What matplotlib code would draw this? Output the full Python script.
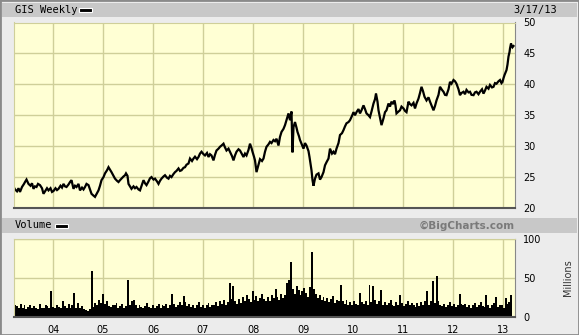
import numpy as np
import matplotlib
matplotlib.use("Agg")
from matplotlib import pyplot as plt
from matplotlib.patches import Rectangle

# weekly price (decimal year, close)
price_dates = [2003.22, 2003.24, 2003.28, 2003.31, 2003.34, 2003.38, 2003.42, 2003.44, 2003.47, 2003.51,
               2003.55, 2003.58, 2003.61, 2003.64, 2003.67, 2003.70, 2003.74, 2003.78, 2003.81, 2003.85,
               2003.88, 2003.91, 2003.95, 2003.98, 2004.01, 2004.05, 2004.08, 2004.11, 2004.15, 2004.18,
               2004.21, 2004.24, 2004.27, 2004.31, 2004.34, 2004.37, 2004.41, 2004.44, 2004.47, 2004.51,
               2004.54, 2004.58, 2004.61, 2004.64, 2004.67, 2004.71, 2004.74, 2004.77, 2004.81, 2004.84,
               2004.88, 2004.91, 2004.94, 2004.97, 2005.01, 2005.04, 2005.08, 2005.11, 2005.14, 2005.17,
               2005.21, 2005.24, 2005.28, 2005.31, 2005.34, 2005.37, 2005.41, 2005.44, 2005.46, 2005.49,
               2005.51, 2005.54, 2005.57, 2005.61, 2005.64, 2005.67, 2005.71, 2005.74, 2005.78, 2005.81,
               2005.84, 2005.87, 2005.91, 2005.94, 2005.97, 2006.01, 2006.04, 2006.08, 2006.11, 2006.14,
               2006.17, 2006.21, 2006.24, 2006.28, 2006.31, 2006.34, 2006.37, 2006.41, 2006.44, 2006.47,
               2006.51, 2006.54, 2006.57, 2006.61, 2006.64, 2006.67, 2006.71, 2006.74, 2006.78, 2006.81,
               2006.84, 2006.88, 2006.91, 2006.94, 2006.97, 2007.01, 2007.04, 2007.08, 2007.11, 2007.14,
               2007.17, 2007.21, 2007.24, 2007.27, 2007.31, 2007.34, 2007.37, 2007.41, 2007.44, 2007.47,
               2007.51, 2007.54, 2007.58, 2007.61, 2007.64, 2007.67, 2007.71, 2007.74, 2007.78, 2007.81,
               2007.84, 2007.87, 2007.91, 2007.94, 2007.97, 2007.99, 2008.02, 2008.04, 2008.07, 2008.11,
               2008.14, 2008.18, 2008.21, 2008.24, 2008.27, 2008.31, 2008.34, 2008.37, 2008.41, 2008.44,
               2008.47, 2008.51, 2008.54, 2008.57, 2008.61, 2008.64, 2008.67, 2008.71, 2008.74, 2008.77,
               2008.79, 2008.81, 2008.84, 2008.87, 2008.89, 2008.92, 2008.94, 2008.98, 2009.01, 2009.04,
               2009.07, 2009.11, 2009.13, 2009.17, 2009.19, 2009.21, 2009.24, 2009.27, 2009.31, 2009.34,
               2009.37, 2009.41, 2009.44, 2009.47, 2009.51, 2009.54, 2009.58, 2009.61, 2009.64, 2009.67,
               2009.71, 2009.74, 2009.78, 2009.81, 2009.84, 2009.87, 2009.91, 2009.94, 2009.98, 2010.01,
               2010.04, 2010.07, 2010.11, 2010.14, 2010.17, 2010.21, 2010.24, 2010.27, 2010.31, 2010.34,
               2010.37, 2010.41, 2010.44, 2010.46, 2010.49, 2010.51, 2010.54, 2010.57, 2010.61, 2010.64,
               2010.67, 2010.71, 2010.74, 2010.77, 2010.80, 2010.83, 2010.85, 2010.87, 2010.91, 2010.94,
               2010.97, 2011.01, 2011.04, 2011.07, 2011.11, 2011.14, 2011.17, 2011.21, 2011.24, 2011.27,
               2011.31, 2011.34, 2011.37, 2011.40, 2011.43, 2011.47, 2011.51, 2011.54, 2011.57, 2011.61,
               2011.64, 2011.67, 2011.71, 2011.74, 2011.78, 2011.81, 2011.84, 2011.87, 2011.91, 2011.94,
               2011.97, 2012.01, 2012.04, 2012.07, 2012.11, 2012.14, 2012.17, 2012.21, 2012.24, 2012.27,
               2012.31, 2012.34, 2012.37, 2012.41, 2012.44, 2012.47, 2012.51, 2012.54, 2012.58, 2012.61,
               2012.64, 2012.67, 2012.71, 2012.74, 2012.78, 2012.81, 2012.84, 2012.87, 2012.91, 2012.94,
               2012.97, 2012.99, 2013.01, 2013.03, 2013.05, 2013.07, 2013.09, 2013.11, 2013.13, 2013.14,
               2013.16, 2013.17, 2013.19, 2013.21]
price = [23.3, 23.0, 22.7, 23.2, 22.6, 23.4, 23.9, 24.2, 24.6, 23.9,
         23.6, 24.0, 23.1, 23.5, 23.4, 23.9, 23.7, 23.2, 22.3, 22.8,
         23.2, 22.85, 23.2, 22.6, 22.75, 23.2, 22.9, 23.1, 23.6, 23.3,
         23.9, 23.5, 23.4, 23.8, 24.2, 24.5, 23.1, 23.6, 23.4, 23.9,
         22.85, 23.3, 23.0, 23.4, 23.9, 23.7, 23.0, 22.3, 22.0, 21.8,
         22.4, 22.85, 23.6, 24.5, 25.0, 25.6, 26.1, 26.6, 26.2, 25.8,
         25.2, 24.75, 24.4, 24.2, 24.5, 24.75, 25.1, 25.3, 25.6, 25.2,
         23.9, 23.5, 23.1, 23.5, 23.2, 23.4, 23.0, 22.85, 23.8, 24.5,
         24.0, 23.7, 24.3, 24.8, 25.0, 24.6, 24.75, 24.3, 23.9, 24.4,
         24.75, 25.1, 25.3, 24.9, 24.75, 25.2, 25.0, 25.5, 25.8, 26.0,
         26.4, 26.0, 26.1, 26.5, 26.6, 27.0, 27.2, 28.0, 27.6, 28.0,
         28.3, 27.9, 28.25, 28.8, 29.1, 28.7, 28.5, 28.9, 28.25, 28.7,
         28.5, 27.7, 28.6, 29.3, 29.6, 29.9, 30.1, 30.4, 29.8, 29.3,
         29.6, 29.1, 28.4, 27.7, 28.5, 29.1, 29.5, 29.3, 28.7, 28.25,
         28.8, 28.5, 29.4, 30.4, 29.7, 29.1, 28.3, 27.7, 25.8, 27.0,
         27.9, 27.6, 28.0, 29.1, 29.9, 30.3, 30.7, 30.5, 31.0, 30.8,
         31.2, 30.1, 31.5, 32.3, 32.8, 33.4, 34.2, 35.3, 34.2, 35.6,
         29.0, 33.1, 33.9, 33.0, 32.3, 31.6, 31.0, 30.2, 29.6, 30.5,
         30.1, 29.2, 28.25, 26.1, 24.5, 23.6, 24.75, 25.4, 25.6, 24.6,
         25.0, 25.8, 26.9, 27.4, 28.0, 29.6, 28.8, 29.1, 28.7, 29.6,
         30.5, 31.8, 32.1, 32.6, 33.2, 33.7, 33.9, 34.2, 34.9, 35.5,
         35.0, 35.5, 36.0, 35.3, 35.8, 36.6, 36.0, 35.3, 35.0, 34.7,
         35.6, 36.9, 37.6, 38.5, 37.2, 35.8, 34.6, 33.4, 34.5, 35.5,
         35.8, 36.9, 36.4, 37.2, 36.8, 37.4, 36.6, 35.3, 35.6, 35.8,
         36.4, 36.1, 35.7, 35.5, 37.2, 36.8, 36.6, 37.0, 36.1, 36.9,
         37.7, 38.6, 39.6, 38.9, 38.0, 37.4, 37.9, 37.2, 36.6, 35.8,
         36.5, 37.4, 38.3, 39.6, 39.1, 38.8, 38.3, 38.25, 39.2, 40.4,
         40.1, 40.7, 40.5, 40.1, 39.2, 38.25, 38.6, 38.8, 38.4, 39.1,
         38.7, 38.8, 38.3, 38.25, 38.7, 38.8, 38.4, 38.8, 39.2, 38.5,
         39.0, 39.6, 39.3, 39.9, 39.5, 39.6, 40.2, 40.1, 40.5, 40.7,
         40.2, 40.4, 41.0, 41.5, 41.9, 42.3, 43.2, 44.5, 45.2, 45.8,
         46.6, 46.35, 46.0, 46.2]

# volume in millions, two-week steps from March 2003
vol_start = 2003.22
vol_step = 14 / 365.25
volume = [16, 14, 12, 17, 11, 15, 10, 13, 16, 11, 14, 12, 10, 17, 12, 11, 15, 14, 12, 33, 13, 11, 16, 13, 12, 20,
          14, 12, 17, 11, 15, 31, 12, 18, 11, 14, 10, 9, 8, 10, 59, 13, 18, 15, 22, 18, 30, 17, 21, 14, 13, 16,
          15, 18, 12, 14, 17, 11, 14, 47, 15, 20, 22, 15, 12, 16, 13, 11, 14, 18, 13, 12, 16, 11, 14, 17, 12, 15,
          14, 17, 12, 15, 30, 17, 13, 15, 19, 15, 27, 19, 14, 17, 13, 16, 12, 15, 19, 13, 16, 12, 15, 18, 13, 16,
          16, 19, 14, 20, 17, 22, 15, 19, 44, 23, 40, 20, 17, 23, 18, 26, 21, 28, 23, 19, 33, 22, 27, 20, 24, 29,
          23, 20, 26, 21, 28, 24, 36, 26, 22, 30, 25, 28, 43, 48, 71, 36, 30, 40, 34, 28, 33, 37, 31, 26, 38, 83,
          36, 29, 25, 28, 22, 26, 20, 24, 19, 23, 27, 18, 22, 20, 41, 20, 17, 22, 16, 19, 15, 20, 17, 16, 31, 19,
          17, 20, 16, 41, 19, 40, 22, 17, 20, 35, 16, 19, 15, 18, 22, 16, 14, 19, 15, 28, 18, 14, 17, 21, 15, 18,
          16, 13, 18, 14, 19, 15, 20, 33, 16, 21, 46, 18, 52, 20, 15, 14, 17, 13, 16, 19, 14, 17, 13, 16, 30, 17,
          15, 17, 13, 16, 12, 15, 18, 13, 16, 19, 14, 13, 28, 16, 12, 15, 18, 26, 13, 16, 15, 12, 25, 17, 19, 28]

years = [2004, 2005, 2006, 2007, 2008, 2009, 2010, 2011, 2012, 2013]
year_labels = ['04', '05', '06', '07', '08', '09', '10', '11', '12', '13']
price_ticks = [20, 25, 30, 35, 40, 45, 50]
vol_ticks = [0, 50, 100]

W, H = 579, 335
bg = '#ececec'
plot_bg = '#ffffd4'
grid_c = '#cfcf99'
bar_c = '#c8c8c8'

fig = plt.figure(figsize=(W / 100, H / 100), dpi=100, facecolor=bg)

def fx(px):
    return px / W

def fy(py):
    return 1 - py / H

# title bars
fig.patches.append(Rectangle((fx(2), fy(17)), fx(575), 14 / H, transform=fig.transFigure,
                             facecolor=bar_c, edgecolor='none'))
fig.patches.append(Rectangle((fx(2), fy(233)), fx(575), 15 / H, transform=fig.transFigure,
                             facecolor=bar_c, edgecolor='none'))
# outer frame
fig.patches.append(Rectangle((0, 0), 1, 1, transform=fig.transFigure, facecolor='none',
                             edgecolor='#8a8a8a', linewidth=2))

x0, x1 = vol_start, 2013.24

ax = fig.add_axes([fx(14), fy(208), fx(515 - 14), (208 - 22.5) / H])
ax.set_facecolor(plot_bg)
ax.plot(price_dates, price, color='black', linewidth=1.6, solid_joinstyle='miter')
ax.set_xlim(x0, x1)
ax.set_ylim(20, 50)
ax.set_xticks(years)
ax.set_xticklabels([])
ax.set_yticks(price_ticks)
ax.yaxis.tick_right()
ax.tick_params(length=0, labelsize=7, pad=6)
ax.grid(True, color=grid_c, linewidth=1)
ax.set_axisbelow(True)

axv = fig.add_axes([fx(14), fy(317), fx(515 - 14), (317 - 239) / H])
axv.set_facecolor(plot_bg)
edges = vol_start + vol_step * np.arange(len(volume) + 1)
axv.stairs(volume, edges, fill=True, color='black', baseline=0)
axv.set_xlim(x0, x1)
axv.set_ylim(0, 100)
axv.set_xticks(years)
axv.set_xticklabels(year_labels)
axv.set_yticks(vol_ticks)
axv.yaxis.tick_right()
axv.tick_params(length=0, labelsize=7, pad=6)
axv.grid(True, color=grid_c, linewidth=1)
axv.set_axisbelow(True)

for a in (ax, axv):
    a.spines['top'].set_color(grid_c)
    a.spines['left'].set_color(grid_c)
    a.spines['right'].set_color('#888888')
    a.spines['bottom'].set_color('#555555')
    a.spines['bottom'].set_linewidth(1.5)

mono = 'DejaVu Sans Mono'
fig.text(fx(15), fy(10), 'GIS Weekly', family=mono, fontsize=7.5, va='center', ha='left')
fig.patches.append(Rectangle((fx(79), fy(12)), 13 / W, 4 / H, transform=fig.transFigure,
                             facecolor='black', edgecolor='white', linewidth=0.8))
fig.text(fx(557), fy(10), '3/17/13', family=mono, fontsize=7.5, va='center', ha='right')
fig.text(fx(15), fy(225.5), 'Volume', family=mono, fontsize=7.5, va='center', ha='left')
fig.patches.append(Rectangle((fx(55), fy(227.5)), 13 / W, 4 / H, transform=fig.transFigure,
                             facecolor='black', edgecolor='white', linewidth=0.8))
fig.text(fx(515), fy(225.5), '\u00a9BigCharts.com', fontsize=7.5, fontweight='bold',
         color='#7a7a7a', va='center', ha='right')
fig.text(fx(568), fy(278), 'Millions', rotation=90, fontsize=7, color='#333333',
         va='center', ha='center')

fig.savefig('out.png', dpi=100, facecolor=bg)
